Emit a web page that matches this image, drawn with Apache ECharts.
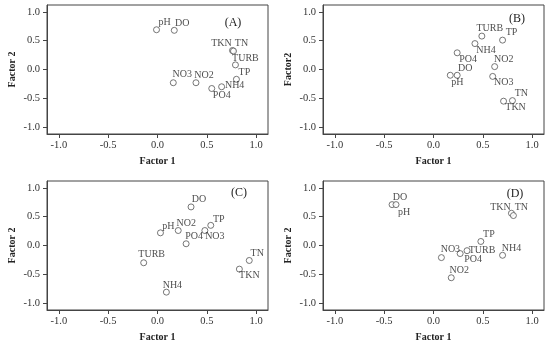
<!DOCTYPE html>
<html><head><meta charset="utf-8">
<script src="https://cdn.jsdelivr.net/npm/echarts@6/dist/echarts.min.js"></script>
<style>html,body{margin:0;padding:0;background:#fff}#c{width:550px;height:348px}</style>
</head><body><div id="c"></div>
<script>
// ---- data ----
const tickValues = [-1, -0.5, 0, 0.5, 1];
const panelTags = ['(A)', '(B)', '(C)', '(D)'];
const yTitles = ['Factor 2', 'Factor2', 'Factor 2', 'Factor 2'];
const xTitle = 'Factor 1';

const namesA = ['pH','DO','TKN','TN','TURB','TP','NO3','NO2','NH4','PO4'];
const f1A = [-0.01, 0.17, 0.76, 0.77, 0.79, 0.80, 0.16, 0.39, 0.65, 0.55];
const f2A = [0.69, 0.68, 0.33, 0.32, 0.08, -0.17, -0.23, -0.23, -0.30, -0.33];

const namesB = ['TURB','TP','NH4','PO4','NO2','DO','pH','NO3','TN','TKN'];
const f1B = [0.49, 0.70, 0.42, 0.24, 0.62, 0.24, 0.17, 0.60, 0.80, 0.71];
const f2B = [0.58, 0.51, 0.45, 0.29, 0.05, -0.10, -0.10, -0.12, -0.54, -0.55];

const namesC = ['DO','TP','NO3','NO2','pH','PO4','TURB','NH4','TN','TKN'];
const f1C = [0.34, 0.54, 0.48, 0.21, 0.03, 0.29, -0.14, 0.09, 0.93, 0.83];
const f2C = [0.67, 0.35, 0.26, 0.26, 0.22, 0.03, -0.30, -0.81, -0.26, -0.41];

const namesD = ['DO','pH','TKN','TN','TP','TURB','PO4','NO3','NH4','NO2'];
const f1D = [-0.42, -0.38, 0.79, 0.81, 0.48, 0.34, 0.27, 0.08, 0.70, 0.18];
const f2D = [0.71, 0.71, 0.56, 0.52, 0.07, -0.09, -0.14, -0.21, -0.17, -0.56];

// ---- label placement (style, pixel offsets of label centre from point) ----
const offA = [[8,-7],[8,-7],[-11,-7],[8,-8],[10,-7],[8,-7],[9,-8],[8,-7],[13,-1],[10,7]];
const offB = [[8,-8],[9,-8],[11,7],[11,7],[9,-7],[8,-7],[7,7],[11,6],[9,-7],[12,6]];
const offC = [[8,-8],[8,-6],[10,6],[8,-7],[8,-6],[8,-7],[8,-8],[6,-7],[8,-7],[10,6]];
const offD = [[8,-7],[8,8],[-11,-6],[8,-8],[8,-7],[15,0],[13,6],[9,-8],[9,-7],[8,-7]];

const panels = [
  {names: namesA, x: f1A, y: f2A, off: offA},
  {names: namesB, x: f1B, y: f2B, off: offB},
  {names: namesC, x: f1C, y: f2C, off: offC},
  {names: namesD, x: f1D, y: f2D, off: offD}
];

// ---- layout ----
const grids = [
  {left: 47, top: 5, width: 221, height: 129},
  {left: 323, top: 5, width: 221, height: 129},
  {left: 47, top: 181, width: 221, height: 129},
  {left: 323, top: 181, width: 221, height: 129}
];
const tagPos = [[233, 23], [517, 19], [239, 193], [515, 194]];

const FONT = 'Liberation Serif';
const LINE = '#444';

function axisCommon() {
  return {
    type: 'value', min: -1.12, max: 1.12,
    axisLine: {show: true, onZero: false, lineStyle: {color: LINE, width: 1}},
    axisTick: {show: true, length: 4, inside: false, customValues: tickValues, lineStyle: {color: LINE}},
    axisLabel: {customValues: tickValues, formatter: v => v.toFixed(1), fontFamily: FONT, fontSize: 10.5, color: '#333'},
    splitLine: {show: false},
    nameTextStyle: {fontFamily: FONT, fontSize: 10, fontWeight: 'bold', color: '#222'}
  };
}

const option = {
  backgroundColor: '#fff',
  animation: false,
  grid: grids.map(g => Object.assign({show: true, borderColor: LINE, borderWidth: 1, backgroundColor: 'transparent'}, g)),
  xAxis: grids.map((g, i) => Object.assign(axisCommon(), {
    gridIndex: i, name: xTitle, nameLocation: 'middle', nameGap: 22,
    axisLabel: Object.assign(axisCommon().axisLabel, {margin: 6})
  })),
  yAxis: grids.map((g, i) => Object.assign(axisCommon(), {
    gridIndex: i, name: yTitles[i], nameLocation: 'middle', nameGap: 30,
    axisLabel: Object.assign(axisCommon().axisLabel, {margin: 7})
  })),
  graphic: panelTags.map((t, i) => ({
    type: 'text', x: tagPos[i][0], y: tagPos[i][1],
    style: {text: t, font: '12px "' + FONT + '"', fill: '#222', align: 'center', verticalAlign: 'middle'}
  })),
  series: panels.map((p, i) => ({
    type: 'scatter', xAxisIndex: i, yAxisIndex: i,
    symbol: 'circle', symbolSize: 6,
    itemStyle: {color: '#fff', borderColor: '#555', borderWidth: 1},
    data: p.names.map((n, k) => ({
      name: n, value: [p.x[k], p.y[k]],
      label: {offset: p.off[k]}
    })),
    label: {
      show: true, position: 'inside', formatter: '{b}',
      fontFamily: FONT, fontSize: 10, color: '#222', align: 'center', verticalAlign: 'middle'
    },
    emphasis: {disabled: true}
  }))
};

const chart = echarts.init(document.getElementById('c'), null, {renderer: 'canvas'});
chart.setOption(option);
</script></body></html>
